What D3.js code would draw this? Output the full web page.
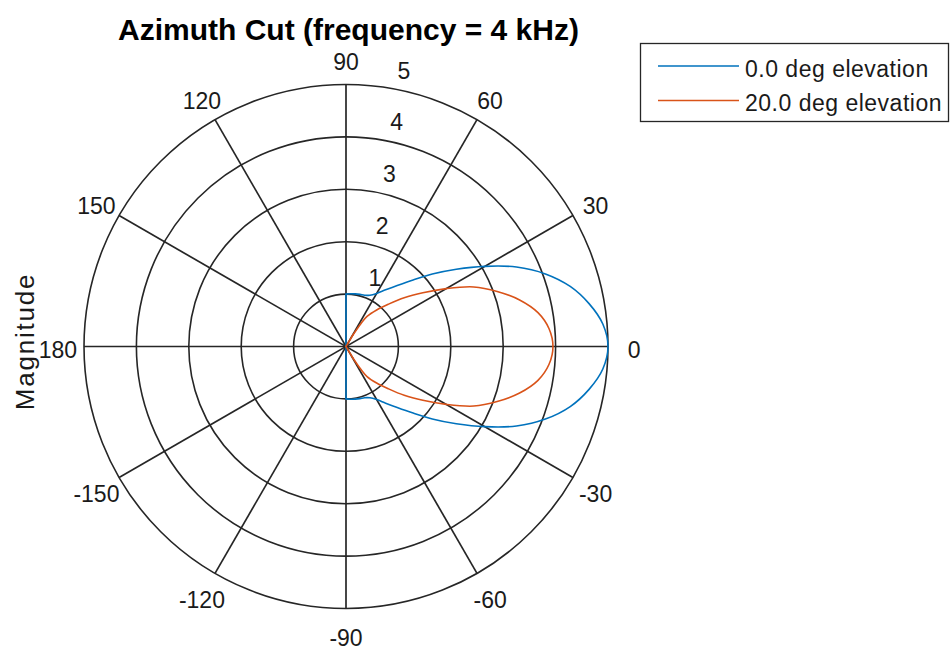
<!DOCTYPE html>
<html>
<head>
<meta charset="utf-8">
<script src="https://cdn.jsdelivr.net/npm/d3@7"></script>
<style>
  html, body { margin: 0; padding: 0; background: #fff; }
  svg { display: block; font-family: "Liberation Sans", Arial, Helvetica, sans-serif; }
</style>
</head>
<body>
<svg id="chart" width="950" height="650"></svg>
<script>
// ---- data ----
const titleText = "Azimuth Cut (frequency = 4 kHz)";
const radialLabel = "Magnitude";
const seriesNames = ["0.0 deg elevation", "20.0 deg elevation"];
const seriesColors = ["#0072BD", "#D95319"];
const angleTicks = [0, 30, 60, 90, 120, 150, 180, -150, -120, -90, -60, -30];
const spokeAngles = [0, 30, 60, 90, 120, 150];
const radialTicks = [1, 2, 3, 4, 5];

// 0.0 deg elevation (azimuth in degrees, magnitude)
const azBlue  = [-180, -91, -90, -85, -80, -75, -70, -65, -60, -55, -50, -45, -40, -35, -30, -25, -20, -15, -10, -5, 0,
                 5, 10, 15, 20, 25, 30, 35, 40, 45, 50, 55, 60, 65, 70, 75, 80, 85, 90, 91, 180];
const magBlue = [0, 0, 1.00, 1.01, 1.02, 1.03, 1.04, 1.08, 1.17, 1.32, 1.52, 1.79, 2.15, 2.57, 3.06, 3.59, 4.05, 4.43, 4.71, 4.92, 5.00,
                 4.92, 4.71, 4.43, 4.05, 3.59, 3.06, 2.57, 2.15, 1.79, 1.52, 1.32, 1.17, 1.08, 1.04, 1.03, 1.02, 1.01, 1.00, 0, 0];

// 20.0 deg elevation
const azOrange  = [-180, -60, -59, -57, -55, -50, -45, -40, -35, -30, -25, -20, -15, -10, -5, 0,
                   5, 10, 15, 20, 25, 30, 35, 40, 45, 50, 55, 57, 59, 60, 180];
const magOrange = [0, 0, 0.25, 0.52, 0.70, 0.91, 1.14, 1.45, 1.79, 2.21, 2.69, 3.07, 3.43, 3.72, 3.89, 3.95,
                   3.89, 3.72, 3.43, 3.07, 2.69, 2.21, 1.79, 1.45, 1.14, 0.91, 0.70, 0.52, 0.25, 0, 0];

// ---- layout ----
const cx = 346, cy = 346.5, R = 262;
const tickFont = 23;
const gridColor = "#262626";
const textColor = "#1a1a1a";

const svg = d3.select("#chart");
const rScale = d3.scaleLinear().domain([0, d3.max(radialTicks)]).range([0, R]);
const toRad = d => d * Math.PI / 180;

const g = svg.append("g").attr("transform", `translate(${cx},${cy})`);

// rings
g.selectAll("circle.ring").data(radialTicks).join("circle")
  .attr("class", "ring")
  .attr("r", d => rScale(d))
  .attr("fill", "none")
  .attr("stroke", gridColor)
  .attr("stroke-width", 1.6);

// spokes (full diameters)
g.selectAll("line.spoke").data(spokeAngles).join("line")
  .attr("class", "spoke")
  .attr("x1", d => rScale(5) * Math.cos(toRad(d)))
  .attr("y1", d => -rScale(5) * Math.sin(toRad(d)))
  .attr("x2", d => -rScale(5) * Math.cos(toRad(d)))
  .attr("y2", d => rScale(5) * Math.sin(toRad(d)))
  .attr("stroke", gridColor)
  .attr("stroke-width", 1.7);

// angle labels
g.selectAll("text.ang").data(angleTicks).join("text")
  .attr("class", "ang")
  .attr("x", d => 1.1 * R * Math.cos(toRad(d)))
  .attr("y", d => -1.1 * R * Math.sin(toRad(d)) + 0.36 * tickFont + 3.5)
  .attr("text-anchor", "middle")
  .attr("font-size", tickFont)
  .attr("fill", textColor)
  .text(d => d);

// radial labels (at 82 deg)
const a82 = toRad(82);
g.selectAll("text.rad").data(radialTicks).join("text")
  .attr("class", "rad")
  .attr("x", d => rScale(d + 0.05) * Math.cos(a82) + 2 * 0.278 * tickFont + 2)
  .attr("y", d => -rScale(d + 0.05) * Math.sin(a82) - 0.212 * tickFont - 1)
  .attr("text-anchor", "start")
  .attr("font-size", tickFont)
  .attr("fill", textColor)
  .text(d => d);

// series: straight tails to the origin, smooth lobe
const series = [
  { az: azBlue, mag: magBlue },
  { az: azOrange, mag: magOrange }
];
const lineStraight = d3.lineRadial()
  .angle(d => toRad(90 - d[0]))
  .radius(d => rScale(d[1]));
const lineSmooth = d3.lineRadial()
  .angle(d => toRad(90 - d[0]))
  .radius(d => rScale(d[1]))
  .curve(d3.curveCatmullRom.alpha(0.5));

series.forEach((s, i) => {
  const pts = s.az.map((a, k) => [a, s.mag[k]]);
  const i0 = pts.findIndex(p => p[1] > 0);
  let i1 = pts.length - 1;
  while (i1 > 0 && !(pts[i1][1] > 0)) i1--;
  const parts = [
    [pts.slice(0, i0 + 1), lineStraight],
    [pts.slice(i0, i1 + 1), lineSmooth],
    [pts.slice(i1), lineStraight]
  ];
  parts.forEach(([p, gen]) => {
    g.append("path")
      .attr("d", gen(p))
      .attr("fill", "none")
      .attr("stroke", seriesColors[i])
      .attr("stroke-width", 1.6)
      .attr("stroke-linejoin", "round")
      .attr("stroke-linecap", "round");
  });
});

// title
svg.append("text")
  .attr("x", 348.5).attr("y", 39.5)
  .attr("text-anchor", "middle")
  .attr("font-size", 30)
  .attr("font-weight", "bold")
  .attr("fill", "#000")
  .text(titleText);

// radial axis label
svg.append("text")
  .attr("transform", `translate(33.5,341.5) rotate(-90)`)
  .attr("text-anchor", "middle")
  .attr("font-size", 26)
  .attr("letter-spacing", 1.8)
  .attr("fill", textColor)
  .text(radialLabel);

// legend
const lg = svg.append("g");
lg.append("rect")
  .attr("x", 640.5).attr("y", 43.5)
  .attr("width", 308).attr("height", 78)
  .attr("fill", "#fff")
  .attr("stroke", gridColor)
  .attr("stroke-width", 1.3);
const legY = d3.scalePoint().domain(seriesNames).range([66, 100.5]);
seriesNames.forEach((name, i) => {
  lg.append("line")
    .attr("x1", 658).attr("x2", 739)
    .attr("y1", legY(name)).attr("y2", legY(name))
    .attr("stroke", seriesColors[i])
    .attr("stroke-width", 1.6);
  lg.append("text")
    .attr("x", 745).attr("y", legY(name) + 10.5)
    .attr("font-size", 23)
    .attr("letter-spacing", 0.5)
    .attr("fill", textColor)
    .text(name);
});
</script>
</body>
</html>
